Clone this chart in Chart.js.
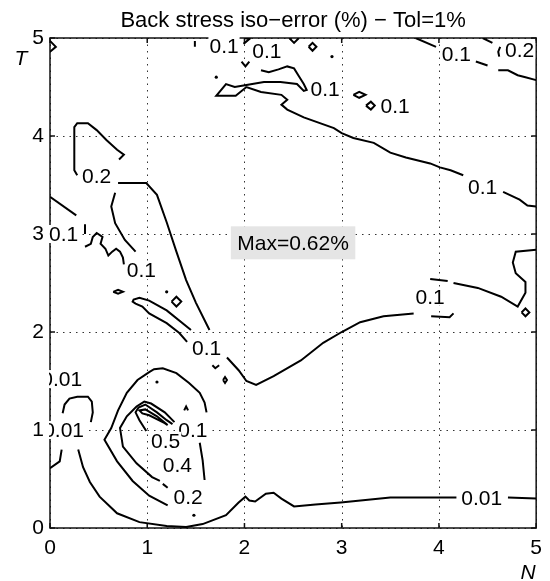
<!DOCTYPE html>
<html lang="en">
<head>
<meta charset="UTF-8">
<title>Back stress iso-error</title>
<script src="https://cdn.jsdelivr.net/npm/chart.js"></script>
<style>
  html, body { margin: 0; padding: 0; background: #fff; }
  canvas { display: block; }
</style>
</head>
<body>
<canvas id="iso" width="550" height="581"></canvas>
<script>
// axis ticks
const nTicks = [0, 1, 2, 3, 4, 5];
const tTicks = [0, 1, 2, 3, 4, 5];

// contour lines, each point is [N, T]
const topRidge = [[2.17,4.67],[2.25,4.65],[2.35,4.68],[2.44,4.71],[2.51,4.69],[2.56,4.61],[2.61,4.53],[2.64,4.47],[2.61,4.46],[2.54,4.53],[2.37,4.55],[2.20,4.55],[2.02,4.52],[1.90,4.50],[1.81,4.53],[1.71,4.41],[1.91,4.41],[2.02,4.50],[2.17,4.45],[2.38,4.42],[2.44,4.37],[2.38,4.32],[2.44,4.27],[2.61,4.19],[2.92,4.08],[3.00,4.03],[3.12,3.98],[3.33,3.93],[3.50,3.83],[3.66,3.78],[3.91,3.72],[4.01,3.68],[4.12,3.65],[4.25,3.60]];
const topRidgeEnd = [[4.66,3.43],[4.83,3.35],[4.91,3.29],[5,3.28]];
const cornerA = [[3.76,5],[3.97,4.91]];
const cornerB = [[4.38,4.76],[4.50,4.72]];
const cornerC = [[4.61,4.67],[4.71,4.67],[4.81,4.62],[4.89,4.60],[5,4.57]];
const cornerHigh = [[4.45,5],[4.55,4.95]];
const cornerArc = [[4.63,4.91],[4.61,4.86],[4.62,4.81]];
const notchLeft = [[0,4.97],[0.06,4.91],[0,4.86]];
const tickTop = [[1.49,4.97],[1.49,4.91]];
const hookTop = [[2.00,5],[2.05,4.99],[1.99,4.94]];
const vTop = [[2.46,5],[2.51,4.95],[2.56,5]];
const diamondTop = [[2.66,4.91],[2.70,4.95],[2.74,4.91],[2.70,4.87],[2.66,4.91]];
const vMid = [[1.97,4.76],[2.01,4.71],[2.05,4.76]];
const diamondA = [[3.12,4.42],[3.18,4.45],[3.245,4.42],[3.18,4.39],[3.12,4.42]];
const diamondB = [[3.25,4.31],[3.30,4.35],[3.34,4.31],[3.30,4.27],[3.25,4.31]];

const loop02 = [[0.71,3.76],[0.76,3.81],[0.69,3.86],[0.58,3.96],[0.48,4.06],[0.39,4.13],[0.28,4.13],[0.25,4.09],[0.25,3.86],[0.25,3.65],[0.28,3.60]];
const wedge = [[0.70,3.52],[0.99,3.52],[1.10,3.40],[1.20,3.12],[1.30,2.82],[1.40,2.53],[1.50,2.30],[1.64,2.02]];
const valley = [[1.82,1.74],[1.94,1.61],[2.02,1.50],[2.12,1.46],[2.30,1.55],[2.58,1.71],[2.81,1.89],[3.00,2.00],[3.19,2.10],[3.43,2.16],[3.74,2.19]];
const bracketUp = [[3.91,2.54],[4.09,2.52]];
const bracketDown = [[3.92,2.16],[4.11,2.15],[4.15,2.19]];
const rightFold = [[4.15,2.50],[4.40,2.45],[4.64,2.36],[4.81,2.26],[4.89,2.40],[4.89,2.51],[4.79,2.60],[4.76,2.71],[4.79,2.82],[5,2.84]];
const diamondRight = [[4.85,2.20],[4.89,2.24],[4.93,2.20],[4.89,2.16],[4.85,2.20]];
const edgeLeft = [[0,3.38],[0.27,3.19]];
const stubLeft = [[0.36,3.10],[0.36,3.00]];
const wiggle = [[0.36,2.87],[0.42,2.90],[0.44,2.97],[0.48,3.01],[0.54,2.97],[0.52,2.90],[0.57,2.85],[0.60,2.78],[0.64,2.82],[0.68,2.85],[0.72,2.82],[0.75,2.76],[0.76,2.69]];
const innerArc = [[0.67,3.42],[0.63,3.28],[0.67,3.11],[0.77,2.94],[0.88,2.82]];
const smallEllipse = [[0.65,2.41],[0.70,2.43],[0.75,2.41],[0.70,2.39],[0.65,2.41]];
const diamondMid = [[1.25,2.31],[1.30,2.36],[1.35,2.31],[1.30,2.26],[1.25,2.31]];
const thinLoop = [[1.45,2.02],[1.20,2.22],[1.02,2.32],[0.92,2.35],[0.86,2.33],[0.85,2.31],[0.88,2.29],[0.95,2.26],[1.02,2.19],[1.20,2.09],[1.33,1.99],[1.41,1.90]];
const vLow = [[1.67,1.66],[1.70,1.63],[1.74,1.66]];
const tinyLoop = [[1.78,1.51],[1.80,1.54],[1.82,1.51],[1.80,1.48],[1.78,1.51]];

const archLeft = [[0.13,1.17],[0.15,1.26],[0.20,1.32],[0.28,1.34],[0.39,1.34],[0.43,1.29],[0.44,1.18],[0.42,1.08]];
const edgeLow = [[0.12,0.80],[0.10,0.68],[0,0.61]];
const floor001 = [[0.29,0.80],[0.34,0.62],[0.41,0.47],[0.51,0.32],[0.69,0.15],[0.92,0.06],[1.20,0.02],[1.40,0.01],[1.57,0.04],[1.81,0.13],[1.94,0.26],[2.01,0.32],[2.05,0.28],[2.11,0.27],[2.22,0.35],[2.30,0.36],[2.38,0.30],[2.51,0.22],[2.73,0.24],[2.99,0.26],[3.50,0.31],[4.18,0.31]];
const floorEnd = [[4.71,0.31],[5,0.30]];
const peak02 = [[1.61,1.18],[1.59,1.28],[1.54,1.38],[1.43,1.48],[1.30,1.58],[1.16,1.63],[1.07,1.62],[1.02,1.59],[0.90,1.51],[0.79,1.38],[0.70,1.20],[0.63,1.02],[0.56,0.90],[0.69,0.68],[0.85,0.48],[1.02,0.33],[1.21,0.23]];
const peak04 = [[1.28,1.08],[1.18,1.18],[1.04,1.27],[0.97,1.29],[0.89,1.24],[0.79,1.14],[0.72,1.02],[0.75,0.83],[0.89,0.66],[1.05,0.52],[1.13,0.48]];
const peak04Dash = [[1.16,0.45],[1.21,0.41]];
const peak05 = [[0.99,0.99],[0.92,1.10],[0.88,1.18],[0.91,1.23],[0.98,1.26],[1.10,1.18],[1.20,1.10],[1.26,1.06]];
const peak06 = [[1.21,1.05],[1.10,1.14],[0.98,1.21],[0.92,1.20],[0.95,1.17],[1.02,1.15],[1.18,1.07],[1.21,1.05]];
const peakSide = [[1.54,0.87],[1.57,0.69],[1.59,0.49]];
const caret = [[1.38,1.20],[1.40,1.24],[1.42,1.20]];
const isolatedPoints = [[2.90,4.81],[1.71,4.60],[1.20,2.41],[1.10,1.49],[1.48,0.13]];

// inline contour labels
const labelText = ['0.1','0.1','0.1','0.1','0.1','0.2','0.1','0.2','0.1','0.1','0.1','0.1','0.01','0.01','0.1','0.5','0.4','0.2','0.01'];
const labelN    = [1.79, 2.23, 2.83, 3.55, 4.18, 4.83, 4.45, 0.48, 0.14, 0.94, 1.61, 3.91, 0.12, 0.14, 1.47, 1.19, 1.31, 1.42, 4.44];
const labelT    = [4.92, 4.87, 4.48, 4.30, 4.83, 4.88, 3.48, 3.59, 3.00, 2.63, 1.83, 2.36, 1.52, 1.00, 1.00, 0.89, 0.64, 0.31, 0.30];

const maxNote = 'Max=0.62%';
const maxNoteAt = [2.50, 2.91];

const contourLines = [
  topRidge, topRidgeEnd, cornerA, cornerB, cornerC, cornerHigh, cornerArc,
  notchLeft, tickTop, hookTop, vTop, diamondTop, vMid, diamondA, diamondB,
  loop02, wedge, valley, bracketUp, bracketDown, rightFold, diamondRight,
  edgeLeft, stubLeft, wiggle, innerArc, smallEllipse, diamondMid, thinLoop, vLow, tinyLoop,
  archLeft, edgeLow, floor001, floorEnd, peak02, peak04, peak04Dash, peak05, peak06, peakSide, caret
];

const FONT = "'Liberation Sans', Arial, Helvetica, sans-serif";
const toXY = pts => pts.map(([x, y]) => ({ x, y }));

const datasets = contourLines.map(line => ({
  data: toXY(line),
  showLine: true,
  pointRadius: 0,
  borderColor: '#000',
  borderWidth: 2,
  tension: 0
}));
datasets.push({
  data: toXY(isolatedPoints),
  showLine: false,
  pointRadius: 1.6,
  pointBackgroundColor: '#000',
  pointBorderWidth: 0
});

// grid, box, labels and titles
const decor = {
  id: 'decor',
  beforeDatasetsDraw(chart) {
    const { ctx, chartArea: a, scales: { x, y } } = chart;
    ctx.save();
    ctx.strokeStyle = '#333';
    ctx.lineWidth = 1;
    ctx.setLineDash([1.5, 5]);
    nTicks.forEach(v => {
      const px = Math.round(x.getPixelForValue(v)) + 0.5;
      ctx.beginPath(); ctx.moveTo(px, a.top); ctx.lineTo(px, a.bottom); ctx.stroke();
    });
    tTicks.forEach(v => {
      const py = Math.round(y.getPixelForValue(v)) + 0.5;
      ctx.beginPath(); ctx.moveTo(a.left, py); ctx.lineTo(a.right, py); ctx.stroke();
    });
    ctx.setLineDash([]);
    ctx.strokeStyle = '#111';
    ctx.lineWidth = 1.5;
    ctx.strokeRect(a.left, a.top, a.right - a.left, a.bottom - a.top);
    // inward tick marks
    ctx.beginPath();
    nTicks.forEach(v => {
      const px = x.getPixelForValue(v);
      ctx.moveTo(px, a.bottom); ctx.lineTo(px, a.bottom - 5);
      ctx.moveTo(px, a.top); ctx.lineTo(px, a.top + 5);
    });
    tTicks.forEach(v => {
      const py = y.getPixelForValue(v);
      ctx.moveTo(a.left, py); ctx.lineTo(a.left + 5, py);
      ctx.moveTo(a.right, py); ctx.lineTo(a.right - 5, py);
    });
    ctx.stroke();
    ctx.restore();
  },
  afterDatasetsDraw(chart) {
    const { ctx, chartArea: a, scales: { x, y } } = chart;
    ctx.save();
    ctx.beginPath();
    ctx.rect(a.left - 1, a.top - 1, a.right - a.left + 2, a.bottom - a.top + 2);
    ctx.clip();
    ctx.font = '21px ' + FONT;
    ctx.textAlign = 'center';
    ctx.textBaseline = 'middle';
    labelText.forEach((t, i) => {
      const px = x.getPixelForValue(labelN[i]);
      const py = y.getPixelForValue(labelT[i]);
      const w = ctx.measureText(t).width + 2;
      ctx.fillStyle = '#fff';
      ctx.fillRect(px - w / 2, py - 9, w, 18);
      ctx.fillStyle = '#000';
      ctx.fillText(t, px, py + 1);
    });
    // maximum annotation
    const mx = x.getPixelForValue(maxNoteAt[0]);
    const my = y.getPixelForValue(maxNoteAt[1]);
    const mw = ctx.measureText(maxNote).width + 13;
    ctx.fillStyle = '#e5e5e5';
    ctx.fillRect(mx - mw / 2, my - 16.5, mw, 33);
    ctx.fillStyle = '#000';
    ctx.fillText(maxNote, mx, my + 1);
    ctx.restore();
  },
  afterDraw(chart) {
    const { ctx, chartArea: a } = chart;
    ctx.save();
    ctx.fillStyle = '#000';
    ctx.textAlign = 'center';
    ctx.textBaseline = 'alphabetic';
    ctx.font = '22px ' + FONT;
    ctx.fillText('Back stress iso\u2212error (%) \u2212 Tol=1%', (a.left + a.right) / 2, 27);
    ctx.font = 'italic 21px ' + FONT;
    ctx.fillText('T', 21, 65);
    ctx.fillText('N', 528, 579);
    ctx.restore();
  }
};

new Chart(document.getElementById('iso'), {
  type: 'scatter',
  data: { datasets },
  options: {
    responsive: false,
    animation: false,
    layout: { padding: { top: 38, right: 11.5, left: 0, bottom: 0 } },
    plugins: { legend: { display: false }, tooltip: { enabled: false }, title: { display: false } },
    scales: {
      x: {
        type: 'linear', min: 0, max: 5,
        afterBuildTicks: s => { s.ticks = nTicks.map(v => ({ value: v })); },
        afterFit: s => { s.height = 53; },
        grid: { display: false, drawTicks: false },
        border: { display: false },
        ticks: { color: '#000', padding: 8, maxRotation: 0, font: { family: FONT, size: 21 } }
      },
      y: {
        type: 'linear', min: 0, max: 5,
        afterBuildTicks: s => { s.ticks = tTicks.map(v => ({ value: v })); },
        afterFit: s => { s.width = 50; },
        grid: { display: false, drawTicks: false },
        border: { display: false },
        ticks: { color: '#000', padding: 6, font: { family: FONT, size: 21 } }
      }
    }
  },
  plugins: [decor]
});
</script>
</body>
</html>
